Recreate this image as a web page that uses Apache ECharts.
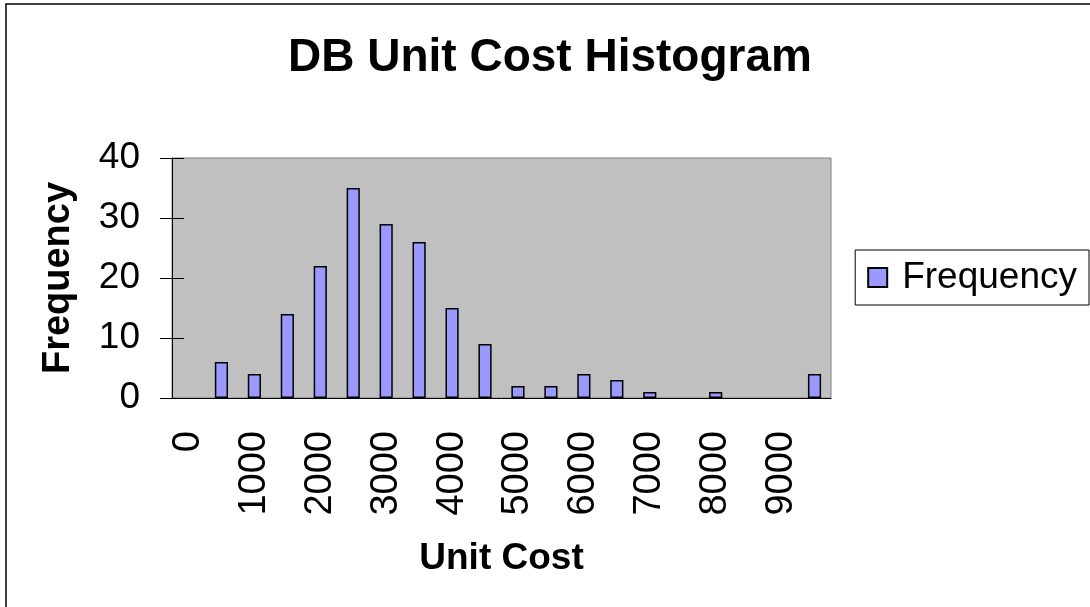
<!DOCTYPE html>
<html>
<head>
<meta charset="utf-8">
<script src="https://cdn.jsdelivr.net/npm/echarts@6/dist/echarts.min.js"></script>
<style>
  html, body { margin: 0; padding: 0; background: #fff; }
  #chart { width: 1090px; height: 607px; }
</style>
</head>
<body>
<div id="chart"></div>
<script>
// histogram bins (unit cost) and counts
const categories = ['0', '500', '1000', '1500', '2000', '2500', '3000', '3500', '4000', '4500',
  '5000', '5500', '6000', '6500', '7000', '7500', '8000', '8500', '9000', '9500']
const frequency = [0, 6, 4, 14, 22, 35, 29, 26, 15, 9, 2, 2, 4, 3, 1, 0, 1, 0, 0, 4]
const yTicks = { min: 0, max: 40, interval: 10 }

const font = '"Liberation Sans", Arial, sans-serif'
const chart = echarts.init(document.getElementById('chart'))

// empty bins draw no outline, like the original
const barData = frequency.map(v => v === 0 ? { value: v, itemStyle: { borderWidth: 0 } } : v)

const option = {
  animation: false,
  backgroundColor: '#fff',
  graphic: [{
    type: 'rect',
    shape: { x: 6, y: 4, width: 1200, height: 1200 },
    style: { fill: 'none', stroke: '#000', lineWidth: 1.5 },
    silent: true
  }],
  title: {
    text: 'DB Unit Cost Histogram',
    left: 288,
    top: 35,
    padding: 0,
    textStyle: { fontFamily: font, fontWeight: 'bold', fontSize: 46, color: '#000' }
  },
  legend: {
    data: ['Frequency'],
    right: 1,
    top: 250,
    orient: 'vertical',
    backgroundColor: '#fff',
    borderColor: '#000',
    borderWidth: 1,
    borderRadius: 0,
    padding: [9, 12, 9, 12],
    itemWidth: 19,
    itemHeight: 19,
    icon: 'rect',
    textStyle: { fontFamily: font, fontSize: 37, color: '#000', padding: [0, 0, 0, 10] }
  },
  grid: {
    left: 172,
    top: 158,
    right: 259,
    bottom: 209,
    show: true,
    backgroundColor: '#C0C0C0',
    borderColor: '#808080',
    borderWidth: 1
  },
  xAxis: [{
    type: 'category',
    data: categories,
    position: 'bottom',
    name: 'Unit Cost',
    nameLocation: 'middle',
    nameGap: 142,
    nameTextStyle: { fontFamily: font, fontWeight: 'bold', fontSize: 37, color: '#000' },
    axisLine: { lineStyle: { color: '#000', width: 1 } },
    axisTick: { interval: 0, length: 12, lineStyle: { color: '#000' } },
    axisLabel: {
      interval: 1,
      rotate: 90,
      margin: 33,
      fontFamily: font,
      fontSize: 38,
      color: '#000'
    }
  }, {
    type: 'category',
    data: categories,
    position: 'bottom',
    axisLine: { show: false },
    axisTick: { interval: 0, inside: true, length: 12, lineStyle: { color: '#000' } },
    axisLabel: { show: false }
  }],
  yAxis: [{
    type: 'value',
    ...yTicks,
    position: 'left',
    name: 'Frequency',
    nameLocation: 'middle',
    nameGap: 94,
    nameTextStyle: { fontFamily: font, fontWeight: 'bold', fontSize: 38, color: '#000' },
    splitLine: { show: false },
    axisLine: { show: true, lineStyle: { color: '#000', width: 1 } },
    axisTick: { show: true, length: 12, lineStyle: { color: '#000' } },
    axisLabel: { margin: 32, fontFamily: font, fontSize: 37, color: '#000' }
  }, {
    type: 'value',
    ...yTicks,
    position: 'left',
    splitLine: { show: false },
    axisLine: { show: false },
    axisTick: { show: true, inside: true, length: 12, lineStyle: { color: '#000' } },
    axisLabel: { show: false }
  }],
  series: [{
    name: 'Frequency',
    type: 'bar',
    data: barData,
    barWidth: '40%',
    itemStyle: { color: '#9999FF', borderColor: '#000', borderWidth: 1.5 }
  }]
}

chart.setOption(option)
</script>
</body>
</html>
